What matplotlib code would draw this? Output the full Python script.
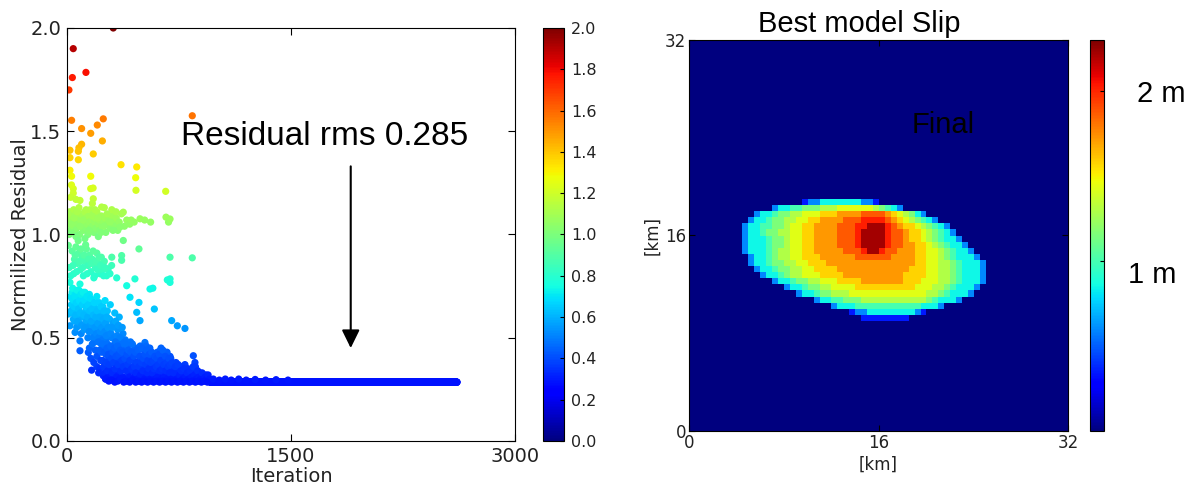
import numpy as np
import matplotlib.pyplot as plt

# ---------------- left panel: residual vs iteration ----------------
# (iteration, normalized residual)
high_points = [(310, 2.00), (42, 1.90), (127, 1.785), (36, 1.76), (13, 1.70), (839, 1.575),
               (243, 1.56), (31, 1.553), (203, 1.53), (98, 1.513), (159, 1.49), (237, 1.453),
               (98, 1.437), (80, 1.42), (20, 1.408), (76, 1.403), (176, 1.39), (20, 1.372),
               (76, 1.362), (362, 1.338), (467, 1.327), (20, 1.311), (31, 1.282), (159, 1.282),
               (460, 1.275), (42, 1.222), (42, 1.20), (159, 1.222), (175, 1.225), (462, 1.214),
               (661, 1.209), (176, 1.173), (170, 1.15), (87, 1.165), (30, 1.24), (25, 1.18), (60, 1.17)]

green_points = [(5, 1.08), (12, 1.05), (18, 1.11), (22, 1.02), (28, 1.07), (35, 1.09), (40, 1.04),
                (45, 1.12), (50, 1.01), (55, 1.06), (60, 1.10), (65, 1.03), (70, 1.08), (75, 1.05),
                (80, 1.13), (85, 1.00), (90, 1.07), (95, 1.10), (100, 1.04), (105, 1.09), (110, 1.02),
                (115, 1.06), (120, 1.11), (125, 1.03), (130, 1.08), (135, 1.05), (140, 1.00), (145, 1.09),
                (150, 1.06), (155, 1.12), (160, 1.03), (165, 1.07), (170, 1.04), (175, 1.10), (180, 1.01),
                (185, 1.06), (190, 1.08), (195, 1.03), (200, 1.11), (210, 1.05), (215, 1.07), (220, 1.02),
                (230, 1.09), (235, 1.04), (245, 1.06), (255, 1.08), (260, 1.01), (270, 1.05), (280, 1.07),
                (290, 1.03), (300, 1.09), (310, 1.06), (320, 1.04), (330, 1.08), (340, 1.02), (350, 1.06),
                (365, 1.10), (377, 1.108), (385, 1.04), (400, 1.07), (420, 1.05), (430, 1.07), (450, 1.06),
                (489, 1.076), (520, 1.07), (560, 1.06), (663, 1.084), (680, 1.06), (690, 1.075), (232, 1.133),
                (355, 1.036), (300, 1.12), (120, 0.98), (210, 0.99), (60, 0.99), (250, 1.13),
                (8, 1.10), (15, 1.00), (32, 1.05), (48, 1.08), (68, 1.11), (88, 1.04), (108, 1.07),
                (128, 1.12), (148, 1.02), (168, 1.09), (188, 1.12), (208, 1.08), (228, 1.01), (248, 1.04),
                (268, 1.10), (288, 1.06), (308, 1.02), (328, 1.11)]

teal_points = [(377, 0.971), (482, 0.93), (9, 0.947), (690, 0.89), (839, 0.887), (366, 0.898),
               (366, 0.875), (300, 0.89), (299, 0.85), (275, 0.83), (333, 0.79), (455, 0.785),
               (690, 0.785), (672, 0.78), (35, 0.92), (50, 0.88), (60, 0.94), (70, 0.86), (80, 0.91),
               (90, 0.83), (100, 0.89), (110, 0.80), (120, 0.87), (130, 0.93), (140, 0.85), (150, 0.90),
               (160, 0.82), (170, 0.88), (180, 0.79), (190, 0.84), (200, 0.91), (210, 0.86), (220, 0.81),
               (230, 0.89), (240, 0.83), (250, 0.87), (265, 0.80), (15, 0.84), (25, 0.80), (45, 0.81),
               (125, 0.95), (75, 0.97),
               (40, 0.85), (55, 0.90), (65, 0.82), (85, 0.87), (95, 0.93), (105, 0.84), (115, 0.90),
               (135, 0.81), (145, 0.88), (165, 0.86), (175, 0.92), (185, 0.80), (195, 0.87), (205, 0.83),
               (215, 0.89), (225, 0.85), (245, 0.80), (255, 0.84)]

cyan_points = [(20, 0.768), (87, 0.76), (288, 0.81), (400, 0.752), (556, 0.736), (575, 0.74),
               (690, 0.768), (482, 0.671), (422, 0.696), (585, 0.639), (467, 0.623), (489, 0.583),
               (701, 0.583), (739, 0.558), (790, 0.545), (9, 0.615), (20, 0.558), (54, 0.526),
               (87, 0.485), (87, 0.437), (143, 0.429),
               (25, 0.70), (30, 0.66), (35, 0.72), (40, 0.62), (45, 0.68), (50, 0.58), (55, 0.71),
               (60, 0.64), (65, 0.55), (70, 0.69), (75, 0.61), (80, 0.73), (85, 0.57), (90, 0.66),
               (95, 0.52), (100, 0.70), (105, 0.60), (110, 0.67), (115, 0.54), (120, 0.72), (125, 0.63),
               (130, 0.58), (135, 0.69), (140, 0.50), (145, 0.65), (150, 0.71), (155, 0.56), (160, 0.62),
               (165, 0.68), (170, 0.53), (175, 0.60), (180, 0.66), (185, 0.48), (190, 0.57), (195, 0.64),
               (200, 0.70), (205, 0.51), (210, 0.59), (215, 0.67), (220, 0.55), (225, 0.62), (230, 0.47),
               (235, 0.58), (240, 0.65), (245, 0.52), (250, 0.60), (255, 0.68), (260, 0.49), (265, 0.56),
               (270, 0.63), (280, 0.53), (285, 0.59), (290, 0.66), (300, 0.50), (310, 0.57), (320, 0.62),
               (330, 0.48), (340, 0.54), (350, 0.60), (360, 0.47), (375, 0.52), (390, 0.49), (400, 0.46),
               (28, 0.63), (33, 0.69), (38, 0.74), (43, 0.59), (48, 0.65), (53, 0.70), (58, 0.61),
               (63, 0.67), (68, 0.73), (73, 0.58), (78, 0.64), (83, 0.68), (88, 0.62), (93, 0.71),
               (98, 0.56), (103, 0.66), (108, 0.72), (113, 0.61), (118, 0.68), (123, 0.55), (128, 0.65),
               (133, 0.70), (138, 0.60), (143, 0.66), (148, 0.53), (153, 0.63), (158, 0.69), (163, 0.58),
               (168, 0.64), (173, 0.50), (178, 0.61), (183, 0.67), (188, 0.55), (193, 0.60), (198, 0.52),
               (203, 0.63), (208, 0.57), (213, 0.50), (218, 0.60), (223, 0.53), (228, 0.65), (233, 0.55),
               (238, 0.49), (243, 0.59), (248, 0.63), (253, 0.53), (258, 0.57), (263, 0.51), (268, 0.60),
               (275, 0.55), (295, 0.52), (305, 0.55), (315, 0.50), (325, 0.58), (335, 0.51), (345, 0.56),
               (355, 0.50), (370, 0.55), (385, 0.48)]

blue_points = [(165, 0.343), (200, 0.36), (243, 0.316), (310, 0.31), (422, 0.30), (522, 0.477),
               (530, 0.46), (623, 0.437), (690, 0.41), (846, 0.413), (857, 0.38), (790, 0.37),
               (870, 0.34), (900, 0.32), (940, 0.305),
               (150, 0.45), (160, 0.40), (170, 0.47), (180, 0.38), (190, 0.44), (200, 0.41), (210, 0.48),
               (220, 0.35), (230, 0.43), (240, 0.39), (250, 0.46),
               (255, 0.33), (260, 0.42), (265, 0.37), (270, 0.47), (275, 0.31), (280, 0.40), (285, 0.35),
               (290, 0.44), (295, 0.30), (300, 0.38), (305, 0.46), (310, 0.34), (315, 0.41), (320, 0.32),
               (325, 0.48), (330, 0.36), (335, 0.43), (340, 0.30), (345, 0.39), (350, 0.45), (355, 0.33),
               (360, 0.41), (365, 0.37), (370, 0.47), (375, 0.31), (380, 0.42), (385, 0.35), (390, 0.44),
               (395, 0.29), (400, 0.39),
               (405, 0.46), (410, 0.33), (415, 0.41), (420, 0.36), (425, 0.48), (430, 0.30), (435, 0.40),
               (440, 0.34), (445, 0.44), (450, 0.31), (455, 0.38), (460, 0.45), (465, 0.32), (470, 0.42),
               (475, 0.35), (480, 0.29), (485, 0.39), (490, 0.46), (495, 0.33), (500, 0.41), (505, 0.30),
               (510, 0.37), (515, 0.44), (520, 0.32), (525, 0.40), (530, 0.35), (535, 0.29), (540, 0.43),
               (545, 0.31), (550, 0.38), (555, 0.45), (560, 0.33), (565, 0.30), (570, 0.40), (575, 0.36),
               (580, 0.29), (585, 0.42), (590, 0.32), (595, 0.37), (600, 0.30),
               (605, 0.43), (610, 0.34), (615, 0.29), (620, 0.39), (625, 0.31), (630, 0.45), (635, 0.36),
               (640, 0.30), (645, 0.41), (650, 0.33), (655, 0.29), (660, 0.38), (665, 0.31), (670, 0.43),
               (675, 0.34), (680, 0.30), (685, 0.37), (690, 0.29), (695, 0.40), (700, 0.32), (710, 0.35),
               (720, 0.30), (730, 0.38), (740, 0.31), (750, 0.34), (760, 0.29), (770, 0.36), (780, 0.31),
               (790, 0.33), (800, 0.30),
               (810, 0.35), (820, 0.31), (830, 0.29), (840, 0.33), (850, 0.30), (860, 0.36), (870, 0.31),
               (880, 0.29), (890, 0.33), (900, 0.30), (910, 0.31), (920, 0.29), (930, 0.32), (940, 0.30),
               (950, 0.29),
               (212, 0.33), (218, 0.44), (226, 0.39), (238, 0.47), (246, 0.36), (252, 0.43), (258, 0.30),
               (262, 0.38), (268, 0.45), (272, 0.34), (278, 0.42), (282, 0.37), (288, 0.31), (292, 0.46),
               (298, 0.40), (302, 0.33), (308, 0.43), (312, 0.38), (318, 0.45), (322, 0.35), (328, 0.41),
               (332, 0.31), (338, 0.46), (342, 0.37), (348, 0.42), (352, 0.30), (358, 0.44), (362, 0.34),
               (368, 0.39), (372, 0.43), (378, 0.36), (382, 0.30), (388, 0.40), (392, 0.47), (398, 0.34),
               (402, 0.42), (408, 0.37), (412, 0.44), (418, 0.31), (422, 0.39), (428, 0.43), (432, 0.35),
               (438, 0.47), (442, 0.30), (448, 0.41), (452, 0.36), (458, 0.43), (462, 0.33), (468, 0.38),
               (472, 0.30), (478, 0.44), (482, 0.36), (488, 0.41), (492, 0.32), (498, 0.38), (502, 0.45),
               (508, 0.34), (512, 0.40), (518, 0.30), (522, 0.42), (528, 0.37), (532, 0.44), (538, 0.33),
               (542, 0.39), (548, 0.35), (552, 0.42), (558, 0.30), (562, 0.38), (568, 0.43), (572, 0.33),
               (578, 0.39), (582, 0.35), (588, 0.41), (592, 0.30), (598, 0.36), (602, 0.40), (608, 0.31),
               (612, 0.37), (618, 0.42), (622, 0.34), (628, 0.39), (632, 0.30), (638, 0.35), (642, 0.44),
               (648, 0.37), (652, 0.31), (658, 0.41), (662, 0.34), (668, 0.38), (672, 0.30), (678, 0.36),
               (682, 0.40), (688, 0.33), (692, 0.37), (698, 0.30), (705, 0.38), (715, 0.33), (725, 0.36),
               (735, 0.30), (745, 0.37), (755, 0.32), (765, 0.34), (775, 0.30), (785, 0.35), (795, 0.31),
               (805, 0.33), (815, 0.30), (825, 0.34), (835, 0.31), (845, 0.36), (855, 0.32), (865, 0.30),
               (875, 0.34), (885, 0.31), (895, 0.30), (905, 0.33), (915, 0.30), (925, 0.31), (935, 0.30),
               (945, 0.32), (955, 0.30),
               (260, 0.30), (280, 0.29), (300, 0.295), (320, 0.285), (340, 0.29), (360, 0.30), (380, 0.285),
               (400, 0.29), (420, 0.285), (440, 0.295), (460, 0.285), (480, 0.29), (500, 0.285), (520, 0.29),
               (540, 0.285), (560, 0.29), (580, 0.285), (600, 0.29), (620, 0.285), (640, 0.29), (660, 0.285),
               (680, 0.29), (700, 0.285), (720, 0.29), (740, 0.285), (760, 0.29), (780, 0.285), (800, 0.29),
               (820, 0.285), (840, 0.29), (860, 0.285), (880, 0.29), (900, 0.285), (920, 0.29), (940, 0.285),
               (980, 0.30), (1020, 0.295), (1060, 0.30), (1100, 0.295), (1150, 0.30), (1200, 0.295),
               (1260, 0.298), (1330, 0.295), (1400, 0.297), (1480, 0.295)]

# converged part: every iteration sits at the final rms
tail_start = 960
tail_end = 2612
final_rms = 0.285

# ---------------- right panel: best model slip (m) ----------------
# slip patch on a 0.5 km grid, rows listed from north (top) to south
slip_levels = {'0': 0.0, '1': 0.35, '2': 0.6, '3': 0.85, '4': 1.0, '5': 1.15, '6': 1.3,
               '7': 1.43, '8': 1.58, '9': 1.72, 'a': 1.87, 'b': 2.02, 'c': 2.22}
slip_rows = [
    "00000000000000000000000000000000000000000000",
    "00000000000122333333322100000000000000000000",
    "00000023344555666777777654320000000000000000",
    "000233455667778889999aaaa9876532000000000000",
    "002334556677889999aaabbbba987654320000000000",
    "02334455677889999aaabbcccba98876543200000000",
    "02334556677889999aaabccccbaa9887654320000000",
    "02333455677889999aaabccccbaa9887654332000000",
    "02333455677889999aaabccccbaa9988765433200000",
    "023334566778899999aaabccbaa99988776543320000",
    "00233456677888999999aaaaaa999988776543332000",
    "00233455667788899999999999999988776654333200",
    "00023345566778888999999999999888776654333200",
    "00002334566777888899999999998888776654333200",
    "00000023345566777888899999998887776654333200",
    "00000000233455667777888888888877766543332000",
    "00000000002334556667777777777777665433320000",
    "00000000000002334455566666666666543332000000",
    "00000000000000002333444444444443332000000000",
    "00000000000000000001223333333321000000000000",
    "00000000000000000000011111111000000000000000",
]
patch_x0_km = 4.0
patch_y0_km = 9.0
cell_km = 0.5
fault_size_km = 32
slip_max = 2.3

plt.rcParams['font.family'] = 'DejaVu Sans'
fig = plt.figure(figsize=(11.96, 4.86), dpi=100)

# ---- left: scatter of residuals ----
ax = fig.add_axes([0.0560, 0.0926, 0.3746, 0.8498])
pts = np.array(high_points + green_points + teal_points + cyan_points + blue_points)
tail_iter = np.arange(tail_start, tail_end + 1)
iters = np.concatenate([tail_iter, pts[:, 0]])
resid = np.concatenate([np.full(len(tail_iter), final_rms), pts[:, 1]])
sc = ax.scatter(iters, resid, c=resid, cmap='jet', vmin=0, vmax=2, s=27, linewidths=0)

ax.set_xlim(0, 3000)
ax.set_ylim(0, 2)
ax.set_xticks([0, 1500, 3000])
ax.set_yticks([0, 0.5, 1.0, 1.5, 2.0])
ax.set_yticklabels(['0.0', '0.5', '1.0', '1.5', '2.0'])
ax.tick_params(direction='in', top=True, right=True, labelsize=14, length=5, pad=4,
               labelcolor='#222222')
ax.set_xlabel('Iteration', fontsize=14, color='#222222')
ax.xaxis.set_label_coords(0.5, -0.063)
ax.set_ylabel('Normilized Residual', fontsize=14, color='#222222')
ax.yaxis.set_label_coords(-0.083, 0.5)

ax.text(763, 1.433, 'Residual rms %.3f' % final_rms, fontsize=24, family='Liberation Sans',
        ha='left', va='baseline')
ax.annotate('', xy=(1900, 0.45), xytext=(1900, 1.33),
            arrowprops=dict(arrowstyle='-|>,head_length=0.55,head_width=0.27', mutation_scale=20,
                            lw=1.5, color='black', shrinkA=0, shrinkB=0))

cax = fig.add_axes([0.4540, 0.0926, 0.0176, 0.8498])
cb = fig.colorbar(sc, cax=cax, ticks=np.arange(0, 2.01, 0.2))
cb.ax.set_yticklabels(['%.1f' % t for t in np.arange(0, 2.01, 0.2)])
cb.ax.tick_params(labelsize=11.5, direction='in', length=3, pad=5, labelcolor='#222222')
cb.outline.set_linewidth(0.8)

# ---- right: slip map ----
n = int(fault_size_km / cell_km)
slip = np.zeros((n, n))
patch = np.array([[slip_levels[ch] for ch in row] for row in slip_rows])[::-1]
r0 = int(patch_y0_km / cell_km)
c0 = int(patch_x0_km / cell_km)
slip[r0:r0 + patch.shape[0], c0:c0 + patch.shape[1]] = patch

ax2 = fig.add_axes([0.5761, 0.1132, 0.3169, 0.8045])
im = ax2.imshow(slip, origin='lower', extent=[0, fault_size_km, 0, fault_size_km], cmap='jet',
                vmin=0, vmax=slip_max, interpolation='nearest', aspect='auto')
ax2.set_xticks([0, 16, 32])
ax2.set_yticks([0, 16, 32])
ax2.tick_params(direction='in', top=True, right=True, labelsize=12, length=4, pad=2,
                labelcolor='#222222')
ax2.set_xlabel('[km]', fontsize=12, color='#222222')
ax2.xaxis.set_label_coords(0.5, -0.063)
ax2.set_ylabel('[km]', fontsize=12, color='#222222')
ax2.yaxis.set_label_coords(-0.072, 0.5)

cax2 = fig.add_axes([0.9114, 0.1132, 0.0117, 0.8045])
cb2 = fig.colorbar(im, cax=cax2, ticks=[1, 2])
cb2.ax.set_yticklabels(['', ''])
cb2.ax.tick_params(direction='in', length=3)
cb2.outline.set_linewidth(0.8)

fig.text(859 / 1196, 1 - 32 / 486, 'Best model Slip', fontsize=21, family='Liberation Sans',
         ha='center', va='baseline')
fig.text(943 / 1196, 1 - 133 / 486, 'Final', fontsize=21, family='Liberation Sans',
         ha='center', va='baseline')
fig.text(1137 / 1196, 1 - 102 / 486, '2 m', fontsize=21, family='Liberation Sans',
         ha='left', va='baseline')
fig.text(1128 / 1196, 1 - 283 / 486, '1 m', fontsize=21, family='Liberation Sans',
         ha='left', va='baseline')

fig.savefig('out.png', dpi=100)
